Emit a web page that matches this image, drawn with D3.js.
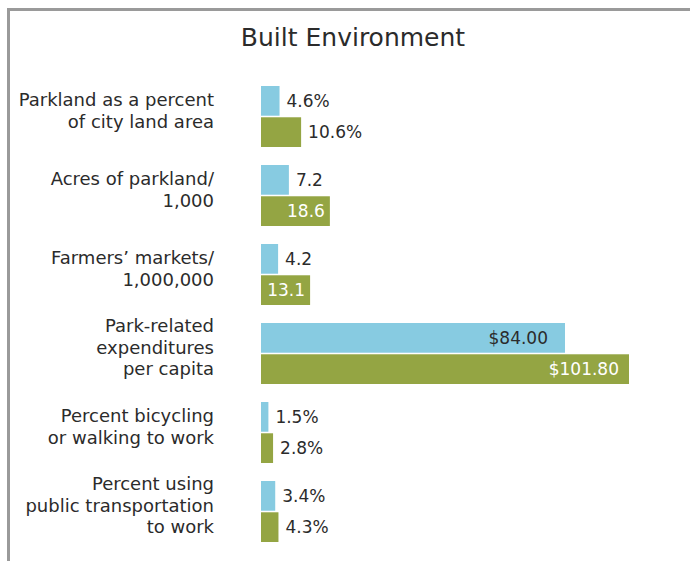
<!DOCTYPE html>
<html>
<head>
<meta charset="utf-8">
<script src="https://cdn.jsdelivr.net/npm/d3@7"></script>
<style>
  body { margin: 0; background: #fff; }
  text { font-family: "DejaVu Sans", sans-serif; }
</style>
</head>
<body>
<div id="chart"></div>
<script>
// categories (one array of lines per row) and values for the two series
var categories = [
  ["Parkland as a percent", "of city land area"],
  ["Acres of parkland/", "1,000"],
  ["Farmers\u2019 markets/", "1,000,000"],
  ["Park-related", "expenditures", "per capita"],
  ["Percent bicycling", "or walking to work"],
  ["Percent using", "public transportation", "to work "]
]
var cityValues = [4.6, 7.2, 4.2, 84.0, 1.5, 3.4]
var cityLabels = ["4.6%", "7.2", "4.2", "$84.00", "1.5%", "3.4%"]
var benchValues = [10.6, 18.6, 13.1, 101.8, 2.8, 4.3]
var benchLabels = ["10.6%", "18.6", "13.1", "$101.80", "2.8%", "4.3%"]
// which labels sit inside their bar
var cityInside = [false, false, false, true, false, false]
var benchInside = [false, true, true, true, false, false]

var width = 690, height = 561
var blue = "#87cbe1", green = "#94a543", ink = "#2b2b2b"

var svg = d3.select("#chart").append("svg")
    .attr("width", width)
    .attr("height", height)

// frame: top and left rules
svg.append("path")
    .attr("d", "M8.5," + height + "V9.5H" + width)
    .attr("fill", "none")
    .attr("stroke", "#9a9a9a")
    .attr("stroke-width", 3)

svg.append("text")
    .attr("x", 353)
    .attr("y", 46)
    .attr("text-anchor", "middle")
    .attr("font-size", 25)
    .attr("fill", ink)
    .text("Built Environment")

var x0 = 261
var x = d3.scaleLinear()
    .domain([0, 101.8])
    .range([x0 + 2, 629])

var y = d3.scaleBand()
    .domain(d3.range(categories.length))
    .range([86, 542])
    .paddingInner(0.228)
    .paddingOuter(0)

var sub = d3.scaleBand()
    .domain(["city", "bench"])
    .range([0, y.bandwidth()])
    .paddingInner(0.05)

var rows = categories.map((c, i) => ({
  i: i,
  lines: c,
  bars: [
    {key: "city", v: cityValues[i], label: cityLabels[i], inside: cityInside[i], color: blue},
    {key: "bench", v: benchValues[i], label: benchLabels[i], inside: benchInside[i], color: green}
  ]
}))

var g = svg.selectAll("g.row")
    .data(rows)
    .enter().append("g")
    .attr("class", "row")
    .attr("transform", d => `translate(0,${y(d.i)})`)

// category labels, sitting a little above the centre of the pair of bars
g.append("text")
    .attr("text-anchor", "end")
    .attr("font-size", 18)
    .attr("fill", ink)
    .selectAll("tspan")
    .data(d => d.lines.map((t, k) => ({t: t, k: k, n: d.lines.length})))
    .enter().append("tspan")
    .attr("x", 214)
    .attr("y", d => y.bandwidth() / 2 - 6 + (d.k - (d.n - 1) / 2) * 21.5)
    .attr("dy", "0.35em")
    .text(d => d.t)

var bar = g.selectAll("g.bar")
    .data(d => d.bars)
    .enter().append("g")
    .attr("class", "bar")
    .attr("transform", d => `translate(0,${sub(d.key)})`)

bar.append("rect")
    .attr("x", x0)
    .attr("width", d => x(d.v) - x0)
    .attr("height", sub.bandwidth())
    .attr("fill", d => d.color)

// inner padding for labels placed inside a bar
var pad = d => d.key == "city" ? 17 : (d.v > 50 ? 10 : 5)

bar.append("text")
    .attr("x", d => d.inside ? x(d.v) - pad(d) : x(d.v) + 7)
    .attr("y", sub.bandwidth() / 2)
    .attr("dy", "0.36em")
    .attr("text-anchor", d => d.inside ? "end" : "start")
    .attr("font-size", 17)
    .attr("fill", d => d.inside && d.key == "bench" ? "#fff" : ink)
    .text(d => d.label)
</script>
</body>
</html>
